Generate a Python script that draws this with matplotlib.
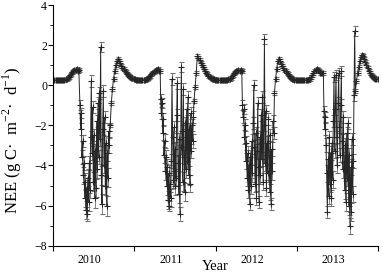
import matplotlib
matplotlib.use("Agg")
import matplotlib.pyplot as plt
import matplotlib.dates as mdates
from matplotlib.ticker import MultipleLocator, NullFormatter
import pandas as pd

# NEE diário (g C m-2 d-1): períodos de dormência (passo 5 dias)
# e estações de crescimento (passo 3 dias)
d0_start = "2010-01-01"
d0 = [0.27, 0.27, 0.26, 0.26, 0.26, 0.26, 0.27, 0.27, 0.27, 0.28,
      0.28, 0.29, 0.31, 0.35, 0.42, 0.50, 0.58, 0.66, 0.72, 0.78,
      0.74, 0.80, 0.70, 0.76]

g10_start = "2010-05-01"
g10 = [-1.0, -2.2, -1.4, -3.6, -2.8, -4.5, -3.9, -5.6, -4.8, -6.2,
       -5.1, -6.4, -4.6, -5.8, -3.9, -5.2, -2.6, 0.2, -3.4, -1.1,
       -4.8, -2.5, -5.6, -3.3, -5.1, -1.8, -4.2, -0.9, -3.6, -0.4,
       -2.7, 1.9, -4.5, -5.9, -2.2, -0.3, -4.0, -1.6, -5.0, -2.9,
       -6.0, -3.4, -4.6, -2.3, -3.0]
e10 = [0.25, 0.30, 0.25, 0.35, 0.30, 0.40, 0.35, 0.45, 0.40, 0.45,
       0.40, 0.35, 0.40, 0.45, 0.35, 0.40, 0.30, 0.30, 0.35, 0.30,
       0.45, 0.30, 0.50, 0.35, 0.45, 0.30, 0.40, 0.30, 0.35, 0.30,
       0.35, 0.25, 0.45, 0.50, 0.30, 0.30, 0.40, 0.30, 0.45, 0.35,
       0.50, 0.40, 0.45, 0.35, 0.40]

d1_start = "2010-09-14"
d1 = [-2.0, -0.9, -0.2, 0.3, 0.7, 1.0, 1.2, 1.3, 1.2, 1.1,
      0.98, 0.88, 0.80, 0.72, 0.65, 0.58, 0.52, 0.47, 0.42, 0.38,
      0.35, 0.32, 0.30, 0.28, 0.27, 0.26, 0.26, 0.26, 0.26, 0.27,
      0.27, 0.28, 0.29, 0.31, 0.35, 0.41, 0.48, 0.55, 0.62, 0.68,
      0.72, 0.78, 0.75, 0.80, 0.72, 0.70]

g11_start = "2011-04-29"
g11 = [-0.7, -1.4, -0.9, -2.4, -1.7, -3.5, -2.8, -4.3, -3.6, -5.0,
       -4.1, -5.7, -4.4, -6.0, -4.9, -5.6, -3.8, 0.3, -2.6, -4.7,
       -2.1, -5.0, -3.2, -4.6, -1.5, 0.1, -3.9, -5.4, -2.7, -6.4,
       -3.1, 0.9, -2.3, -4.8, -0.2, -3.6, -5.3, -1.9, -4.2, -1.2,
       -3.8, -0.6, -4.5, -2.2, -4.9, -1.4, -3.3, -2.0, -2.8, -1.6]
e11 = [0.25, 0.30, 0.25, 0.35, 0.30, 0.40, 0.35, 0.40, 0.35, 0.45,
       0.40, 0.45, 0.40, 0.25, 0.40, 0.45, 0.35, 0.30, 0.30, 0.40,
       0.30, 0.45, 0.35, 0.40, 0.30, 0.30, 0.40, 0.45, 0.30, 0.35,
       0.35, 0.25, 0.30, 0.45, 0.30, 0.35, 0.45, 0.30, 0.40, 0.30,
       0.40, 0.30, 0.45, 0.30, 0.40, 0.30, 0.35, 0.30, 0.35, 0.30]

d2_start = "2011-09-26"
d2 = [-0.8, -0.1, 0.6, 1.45, 1.35, 1.25, 1.12, 1.0, 0.9, 0.8,
      0.72, 0.63, 0.55, 0.48, 0.42, 0.37, 0.33, 0.30, 0.29, 0.28,
      0.28, 0.27, 0.26, 0.26, 0.26, 0.26, 0.26, 0.26, 0.27, 0.27,
      0.28, 0.30, 0.33, 0.38, 0.45, 0.52, 0.60, 0.66, 0.70, 0.73,
      0.76, 0.72, 0.78, 0.70]

g12_start = "2012-05-01"
g12 = [-1.0, -1.6, -1.2, -2.6, -2.0, -3.8, -2.9, -4.6, -3.4, -5.2,
       -4.0, -5.9, -3.6, -5.0, -2.8, -4.4, -1.9, 0.0, -3.1, -4.9,
       -2.4, -5.6, -3.3, -0.9, -4.1, -5.8, -2.6, -4.5, -1.5, -3.7,
       -0.6, -4.8, -2.0, 2.3, -3.9, -1.3, -5.1, -2.9, -4.4, -1.7,
       -3.6, -5.3, -2.5, -5.9, -3.2, -4.3, -1.8, -2.4]
e12 = [0.25, 0.30, 0.25, 0.35, 0.30, 0.40, 0.35, 0.40, 0.35, 0.40,
       0.40, 0.30, 0.35, 0.40, 0.35, 0.40, 0.30, 0.25, 0.35, 0.40,
       0.30, 0.35, 0.35, 0.30, 0.40, 0.30, 0.30, 0.40, 0.30, 0.35,
       0.30, 0.40, 0.30, 0.25, 0.40, 0.30, 0.40, 0.35, 0.40, 0.30,
       0.35, 0.40, 0.30, 0.30, 0.35, 0.40, 0.30, 0.30]

d3_start = "2012-09-22"
d3 = [-0.4, 0.3, 0.8, 1.2, 1.32, 1.2, 1.08, 0.97, 0.87, 0.78,
      0.70, 0.62, 0.55, 0.48, 0.42, 0.37, 0.33, 0.30, 0.28, 0.27,
      0.27, 0.27, 0.26, 0.26, 0.26, 0.26, 0.26, 0.26, 0.27, 0.27,
      0.28, 0.30, 0.33, 0.40, 0.50, 0.60, 0.70, 0.78, 0.80, 0.76,
      0.70, 0.62, 0.60, 0.62, 0.60]

g13_start = "2013-05-03"
g13 = [-1.3, -2.2, -1.6, -3.0, -4.4, -6.3, -3.7, -5.5, -2.6, -4.9,
       -3.4, -5.6, -2.9, -4.7, -1.8, 0.4, -3.3, -1.2, 0.5, -2.6,
       -4.0, -0.9, 0.6, -2.1, -3.5, -1.0, 0.7, -2.8, -4.2, -1.6,
       -3.9, -5.2, -3.0, -5.8, -2.4, -4.6, -1.9, -6.0, -3.5, -7.0,
       -4.1, -6.3, -2.7, -5.4, -3.8, -0.5, 2.7]
e13 = [0.25, 0.30, 0.25, 0.35, 0.40, 0.30, 0.35, 0.40, 0.30, 0.40,
       0.35, 0.40, 0.30, 0.40, 0.30, 0.25, 0.35, 0.30, 0.25, 0.30,
       0.40, 0.30, 0.25, 0.30, 0.35, 0.30, 0.25, 0.35, 0.40, 0.30,
       0.40, 0.45, 0.35, 0.45, 0.30, 0.40, 0.30, 0.45, 0.35, 0.40,
       0.40, 0.45, 0.30, 0.40, 0.35, 0.30, 0.25]

d4_start = "2013-09-21"
d4 = [-0.3, 0.2, 0.6, 0.9, 1.2, 1.4, 1.5, 1.45, 1.3, 1.15,
      1.0, 0.85, 0.7, 0.6, 0.52, 0.45, 0.40, 0.36, 0.33, 0.30,
      0.30]

ERR_DORMENCIA = 0.1


def serie(inicio, valores, passo, erros=None):
    datas = pd.date_range(inicio, periods=len(valores), freq=passo)
    if erros is None:
        erros = [ERR_DORMENCIA] * len(valores)
    return pd.DataFrame({"nee": valores, "err": erros}, index=datas)


partes = [
    serie(d0_start, d0, "5D"), serie(g10_start, g10, "3D", e10),
    serie(d1_start, d1, "5D"), serie(g11_start, g11, "3D", e11),
    serie(d2_start, d2, "5D"), serie(g12_start, g12, "3D", e12),
    serie(d3_start, d3, "5D"), serie(g13_start, g13, "3D", e13),
    serie(d4_start, d4, "5D"),
]
df = pd.concat(partes)

plt.rcParams["font.family"] = "Liberation Serif"
plt.rcParams["mathtext.fontset"] = "custom"
plt.rcParams["mathtext.rm"] = "Liberation Serif"

fig = plt.figure(figsize=(3.83, 2.75), dpi=100)
topo = 5.0   # px do topo da figura até o "4"
base = 245.7
ax = fig.add_axes([53.3 / 383, 1 - base / 275, (378 - 53.3) / 383, (base - topo) / 275])

ax.errorbar(df.index, df["nee"], yerr=df["err"], fmt="-", marker="+",
            ms=4, mew=0.8, color="#262626", lw=0.7,
            ecolor="#707070", elinewidth=0.6, capsize=1.8, capthick=0.6)

ax.set_xlim(pd.Timestamp("2010-01-01"), pd.Timestamp("2014-01-01"))
ax.set_ylim(-8, 4)

# rótulos dos anos um pouco antes do meio do ano, como no original
ax.xaxis.set_major_locator(mdates.YearLocator())
ax.xaxis.set_major_formatter(NullFormatter())
ax.xaxis.set_minor_locator(mdates.MonthLocator(bymonth=6, bymonthday=13))
ax.xaxis.set_minor_formatter(mdates.DateFormatter("%Y"))
ax.tick_params(axis="x", which="major", direction="out", length=3.5, width=0.8)
ax.tick_params(axis="x", which="minor", length=0, labelsize=8.5, pad=6)

ax.yaxis.set_major_locator(MultipleLocator(2))
ax.yaxis.set_minor_locator(MultipleLocator(1))
ax.tick_params(axis="y", which="major", direction="out", length=3.5, width=0.8,
               labelsize=8.5, pad=1)
ax.tick_params(axis="y", which="minor", direction="out", length=2, width=0.6)

for lado in ("top", "right"):
    ax.spines[lado].set_visible(False)
for lado in ("left", "bottom"):
    ax.spines[lado].set_linewidth(0.8)

ax.set_ylabel("NEE (g C·  m$^{-2}$·  d$^{-1}$)", fontsize=12, va="center")
ax.yaxis.set_label_coords(-0.125, 0.44)
ax.set_xlabel("Year", fontsize=10.5, va="center")
ax.xaxis.set_label_coords(0.5, -0.088)

fig.savefig("out.png", dpi=100)
